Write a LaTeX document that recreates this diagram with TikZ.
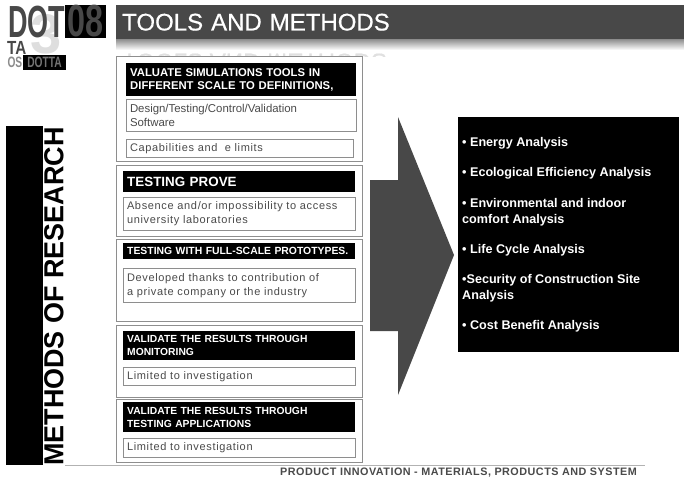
\documentclass[tikz,border=0pt]{standalone}
\usepackage{fontspec}
\setmainfont{Liberation Sans}
\newfontfamily\titlefam[FakeBold=0.5]{Liberation Sans}
\usepackage{graphicx}
\usetikzlibrary{shadings}
\definecolor{slate}{HTML}{484848}
\definecolor{edge}{HTML}{8E8E8E}
\definecolor{bodytxt}{HTML}{4A4A4A}
\newcommand{\fs}[2]{\fontsize{#1}{#2}\selectfont}
\tikzset{
  frame/.style={draw=edge,line width=0.9pt,fill=white,anchor=north west,inner sep=0pt},
  headbar/.style={fill=black,text=white,anchor=north west,inner ysep=0pt,inner xsep=4pt,align=left,font=\bfseries\fs{11.3}{13.5}},
  headtight/.style={headbar,font=\bfseries\fs{10.3}{13}},
  inbox/.style={draw=edge,line width=1pt,fill=white,text=bodytxt,anchor=north west,inner ysep=0pt,inner xsep=3.5pt,align=left,font=\fs{11}{14}\addfontfeature{LetterSpace=6}},
  item/.style={text=white,anchor=west,inner sep=0pt,align=left,font=\bfseries\fs{12.6}{16}},
}
\newcommand{\bx}[7]{\node[#1,minimum width=#4pt,minimum height=#5pt,text width=#6pt] (#2) at (#3) {#7};}
\begin{document}
\begin{tikzpicture}[x=1pt,y=-1pt]
\useasboundingbox (0,0) rectangle (684,491);
\fill[white] (0,0) rectangle (684,491);
% logo
\node[text=black!13,font=\bfseries\fs{56}{56},inner sep=0pt] (wm) at (46,34) {3};
\node[text=slate,anchor=west,inner sep=0pt,font=\bfseries\fs{45}{45}] (dot) at (8,22) {\scalebox{0.6}[1]{DOT}};
\node[fill=black,text=slate,minimum width=41pt,minimum height=33pt,inner sep=0pt,font=\bfseries\fs{45}{45}] (eight) at (85.5,21.5) {\scalebox{0.72}[1]{08}};
\node[text=slate,anchor=west,inner sep=0pt,font=\bfseries\fs{19}{19}] (ta) at (7,48) {\scalebox{0.8}[1]{TA}};
\node[fill=black,text=black!55,minimum width=43pt,minimum height=15pt,inner sep=0pt,font=\bfseries\fs{15}{15}] (dotta) at (44.5,62.5) {\scalebox{0.68}[1]{DOTTA}};
\node[text=black!45,anchor=east,inner sep=0pt,font=\bfseries\fs{15}{15}] (os) at (22.5,62.5) {\scalebox{0.68}[1]{OS}};
% title
\shade[top color=black!45,bottom color=white] (116,39) rectangle (684,50);
\begin{scope}
\clip (116,46) rectangle (684,56);
\node[text=black!12,anchor=west,inner sep=0pt,font=\titlefam\fs{24}{24}] (mirror) at (122,62) {\scalebox{1}[-1]{TOOLS AND METHODS}};
\end{scope}
\node[fill=slate,text=white,anchor=north west,minimum width=568pt,minimum height=34pt,inner sep=0pt,text width=562pt,inner xsep=6pt,font=\titlefam\fs{24}{24}] (title) at (116,5) {TOOLS AND METHODS};
% left bar
\node[fill=black,anchor=north west,minimum width=37pt,minimum height=339pt,inner sep=0pt] (bar) at (6,126) {};
\begin{scope}
\clip (43,120) rectangle (70,465);
\node[rotate=90,anchor=west,inner sep=0pt,font=\bfseries\fs{27.5}{29}] (side) at (54,466) {\scalebox{0.98}[1]{METHODS OF RESEARCH}};
\end{scope}
% frames
\node[frame,minimum width=246pt,minimum height=105pt] (f1) at (116,56) {};
\node[frame,minimum width=246pt,minimum height=71pt] (f2) at (116,165) {};
\node[frame,minimum width=246pt,minimum height=82pt] (f3) at (116,239) {};
\node[frame,minimum width=246pt,minimum height=72pt] (f4) at (116,325) {};
\node[frame,minimum width=246pt,minimum height=63pt] (f5) at (116,399) {};
% group 1
\bx{headbar}{h1}{126,63}{230}{33}{222}{VALUATE SIMULATIONS TOOLS IN\\DIFFERENT SCALE TO DEFINITIONS,}
\bx{inbox,font=\fs{11.4}{14}}{b1}{126,99}{230}{32}{223}{Design/Testing/Control/Validation\\Software}
\bx{inbox}{c1}{126,139}{227}{18}{220}{Capabilities and\ \ e limits}
% group 2
\bx{headbar,font=\bfseries\fs{13.4}{14}}{h2}{123,171}{232}{21}{224}{TESTING PROVE}
\bx{inbox}{b2}{123,197}{232}{33}{225}{Absence and/or impossibility to access\\university laboratories}
% group 3
\bx{headbar,font=\bfseries\fs{10.4}{12}}{h3}{123,243}{232}{16}{224}{TESTING WITH FULL-SCALE PROTOTYPES.}
\bx{inbox}{b3}{123,268}{232}{34}{225}{Developed thanks to contribution of\\a private company or the industry}
% group 4
\bx{headtight}{h4}{123,331}{232}{29}{224}{VALIDATE THE RESULTS THROUGH\\MONITORING}
\bx{inbox}{b4}{123,367}{232}{18}{225}{Limited to investigation}
% group 5
\bx{headtight}{h5}{123,402}{232}{30}{224}{VALIDATE THE RESULTS THROUGH\\TESTING APPLICATIONS}
\bx{inbox}{b5}{123,438}{232}{19}{225}{Limited to investigation}
% arrow
\fill[slate] (370,180) -- (398,180) -- (398,117) -- (454,255) -- (398,395) -- (398,331) -- (370,331) -- cycle;
% panel
\node[fill=black,anchor=north west,minimum width=221pt,minimum height=235pt,inner sep=0pt] (panel) at (458,117) {};
\node[item] (i1) at (462,143) {• Energy Analysis};
\node[item] (i2) at (462,173) {• Ecological Efficiency Analysis};
\node[item] (i3) at (462,212) {• Environmental and indoor\\comfort Analysis};
\node[item] (i4) at (462,250) {• Life Cycle Analysis};
\node[item] (i5) at (462,288.5) {•Security of Construction Site\\Analysis};
\node[item] (i6) at (462,326) {• Cost Benefit Analysis};
% footer
\draw[black!30,line width=1pt] (65,465) -- (645,465);
\node[text=bodytxt,anchor=west,inner sep=0pt,font=\bfseries\fs{10.8}{11}\addfontfeature{LetterSpace=4.6}] (foot) at (280,473) {PRODUCT INNOVATION - MATERIALS, PRODUCTS AND SYSTEM};
\end{tikzpicture}
\end{document}
